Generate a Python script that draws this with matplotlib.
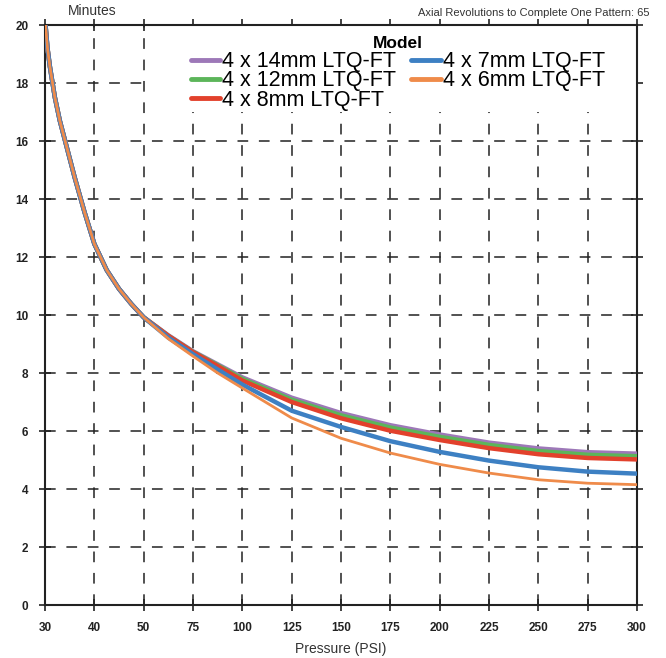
import numpy as np
import matplotlib
matplotlib.use("Agg")
import matplotlib.pyplot as plt
from matplotlib.patches import Rectangle

plt.rcParams['font.family'] = ['Liberation Sans', 'DejaVu Sans']

# x tick categories (evenly spaced on the chart)
tick_pressures = [30, 40, 50, 75, 100, 125, 150, 175, 200, 225, 250, 275, 300]
y_ticks = [0, 2, 4, 6, 8, 10, 12, 14, 16, 18, 20]

# pressures at which values were read
pressure = [30, 30.5, 31, 32, 33, 34, 35, 36, 38, 40, 42.5, 45, 47.5, 50,
            62.5, 75, 87.5, 100, 125, 150, 175, 200, 225, 250, 275, 300]

steep_common = [20.2, 19.2, 18.55, 17.5, 16.7, 16.05, 15.4, 14.75, 13.55, 12.45,
                11.55, 10.9, 10.38, 9.92]

mm14 = steep_common + [9.30, 8.75, 8.30, 7.85, 7.15, 6.62, 6.20, 5.88, 5.60, 5.40, 5.27, 5.22]
mm12 = steep_common + [9.28, 8.73, 8.27, 7.80, 7.08, 6.54, 6.12, 5.80, 5.52, 5.31, 5.18, 5.13]
mm8 = steep_common + [9.28, 8.72, 8.24, 7.74, 7.00, 6.44, 6.01, 5.69, 5.41, 5.20, 5.07, 5.02]
mm7 = steep_common + [9.22, 8.65, 8.12, 7.60, 6.70, 6.14, 5.65, 5.28, 4.98, 4.75, 4.60, 4.53]
mm6 = steep_common + [9.18, 8.58, 8.00, 7.48, 6.45, 5.75, 5.24, 4.85, 4.55, 4.32, 4.20, 4.15]

series = [
    ("4 x 14mm LTQ-FT", mm14, "#9d78b8", 3.2),
    ("4 x 12mm LTQ-FT", mm12, "#5cb55a", 3.2),
    ("4 x 8mm LTQ-FT", mm8, "#e2412c", 3.2),
    ("4 x 7mm LTQ-FT", mm7, "#3d80c3", 3.2),
    ("4 x 6mm LTQ-FT", mm6, "#ef8b4a", 2.0),
]

tick_idx = np.arange(len(tick_pressures), dtype=float)


def fwd(x):
    return np.interp(x, tick_pressures, tick_idx)


def inv(i):
    return np.interp(i, tick_idx, tick_pressures)


fig = plt.figure(figsize=(6.66, 6.58), dpi=100)
ax = fig.add_axes([0.0676, 0.0805, 0.889, 0.8815])
ax.set_xscale('function', functions=(fwd, inv))

handles = {}
for name, vals, color, lw in series:
    h, = ax.plot(pressure, vals, color=color, lw=lw, solid_capstyle='round',
                 solid_joinstyle='round', zorder=3, label=name)
    handles[name] = h

ax.set_xlim(30, 300)
ax.set_ylim(0, 20)
ax.set_xticks(tick_pressures)
ax.set_xticklabels([str(t) for t in tick_pressures])
ax.set_yticks(y_ticks)
ax.set_yticklabels([str(t) for t in y_ticks])
ax.minorticks_off()

ax.grid(True, color='#222222', linestyle=(0, (7, 7)), linewidth=1.1, zorder=1)

# white background block behind the legend (hides grid there)
ax.add_patch(Rectangle((0.177, 0.85), 0.823, 0.15, transform=ax.transAxes,
                       facecolor='white', edgecolor='none', zorder=2))

for sp in ax.spines.values():
    sp.set_linewidth(1.5)
    sp.set_color('#222222')

ax.tick_params(axis='both', which='major', direction='inout', length=8, width=1.2,
               top=True, right=True, colors='#222222')
ax.tick_params(axis='x', pad=8, labelsize=8.5)
ax.tick_params(axis='y', pad=8, labelsize=8.5)
for lab in ax.get_xticklabels() + ax.get_yticklabels():
    lab.set_fontweight('bold')

ax.set_xlabel("Pressure (PSI)", fontsize=10, color='#333333', labelpad=6)
fig.text(0.102, 0.972, "Minutes", fontsize=10, color='#333333', ha='left', va='bottom')
fig.text(0.975, 0.972, "Axial Revolutions to Complete One Pattern: 65", fontsize=8,
         color='#333333', ha='right', va='bottom')

order = ["4 x 14mm LTQ-FT", "4 x 12mm LTQ-FT", "4 x 8mm LTQ-FT", "4 x 7mm LTQ-FT", "4 x 6mm LTQ-FT"]
leg = ax.legend([handles[n] for n in order], order, ncol=2, loc='upper right',
                bbox_to_anchor=(0.968, 1.003), frameon=False, fontsize=15.5,
                title="Model", title_fontproperties={'weight': 'bold', 'size': 12.5},
                handlelength=1.35, handletextpad=0.12, columnspacing=0.7,
                labelspacing=-0.08, borderpad=0.1)
leg.set_zorder(6)
for lh in leg.get_lines():
    lh.set_linewidth(3.5)
leg._legend_box.sep = 0

fig.savefig("out.png", dpi=100)
